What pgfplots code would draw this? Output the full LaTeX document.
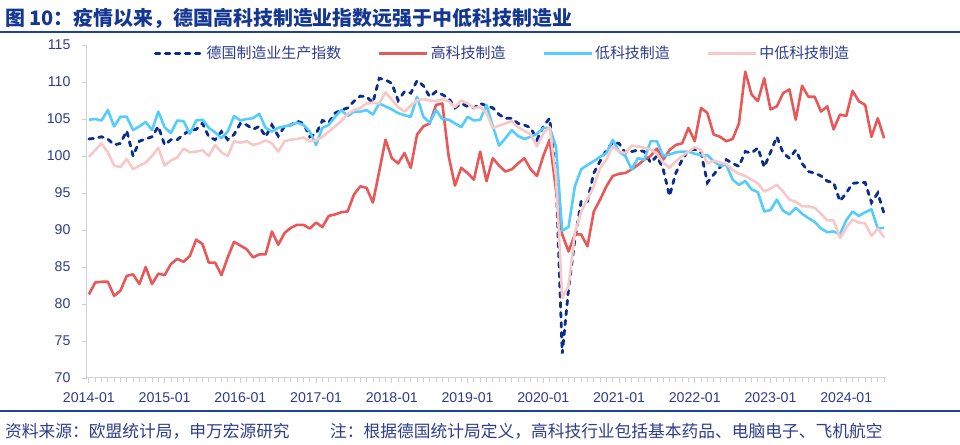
\documentclass[border=0pt]{standalone}
\usepackage{pgfplots}
\usepackage{pgfplotstable}
\pgfplotsset{compat=1.18}
\usepackage{fontspec}
\setmainfont{Liberation Sans}
\newfontfamily\cjk{Noto Sans CJK SC}

\definecolor{deblue}{RGB}{10,45,140}
\definecolor{hired}{RGB}{232,88,88}
\definecolor{loblue}{RGB}{85,205,252}
\definecolor{mlpink}{RGB}{247,200,200}
\definecolor{axisgray}{RGB}{208,208,208}
\definecolor{tickblue}{RGB}{45,60,140}
\definecolor{titleblue}{RGB}{20,55,145}
\definecolor{ruleblue}{RGB}{30,65,160}

% month index (0 = 2014-01), DE manufacturing, high-tech, low-tech, medium-low-tech
\pgfplotstableread{
m de hi lo ml
0 102.3 81.3 104.9 99.9
1 102.4 82.9 105.0 100.8
2 102.6 83.0 104.8 101.7
3 102.3 83.0 106.2 100.5
4 101.5 81.1 104.0 98.7
5 101.7 81.8 105.3 98.5
6 103.4 83.8 105.3 99.6
7 100.0 84.0 103.5 98.2
8 102.0 82.7 104.0 98.7
9 102.3 85.0 104.6 99.1
10 102.6 82.7 103.5 100.0
11 104.0 84.1 106.0 101.1
12 101.5 83.9 103.9 98.7
13 102.2 85.4 103.1 99.4
14 102.2 86.1 104.8 99.8
15 102.9 85.7 104.7 101.0
16 103.5 86.5 103.0 100.5
17 103.6 88.7 104.8 100.6
18 104.4 88.1 104.9 100.8
19 102.6 85.6 103.8 100.0
20 102.2 85.6 103.2 101.5
21 103.3 83.9 102.4 100.5
22 102.2 86.3 103.3 100.0
23 102.9 88.4 105.4 102.0
24 104.4 87.9 104.8 101.8
25 104.2 87.4 105.0 102.0
26 103.6 86.3 105.1 101.5
27 104.0 86.7 105.7 101.7
28 102.6 86.7 103.8 102.1
29 104.2 89.8 103.3 101.7
30 102.7 88.0 103.8 100.6
31 104.0 89.6 104.0 102.0
32 104.2 90.3 104.2 102.2
33 104.7 90.7 104.5 102.3
34 104.4 90.7 104.2 102.5
35 102.6 90.2 103.3 102.0
36 103.0 91.0 101.5 102.1
37 104.8 90.4 103.8 102.6
38 104.5 91.9 104.2 103.3
39 105.8 92.1 105.3 104.0
40 106.2 92.4 106.2 104.7
41 106.5 92.5 105.4 105.7
42 107.4 94.8 106.0 106.2
43 108.1 95.9 106.0 106.5
44 108.0 95.7 106.2 107.1
45 107.2 93.7 105.6 107.2
46 110.5 97.9 107.1 107.1
47 110.3 102.2 106.7 108.6
48 109.8 99.7 106.3 107.6
49 107.5 99.0 105.8 106.6
50 108.7 100.4 105.5 106.0
51 108.5 98.4 105.3 106.8
52 110.2 102.9 108.0 107.5
53 109.5 104.0 105.3 107.7
54 108.0 104.4 104.5 107.5
55 108.7 106.9 106.2 107.4
56 108.3 107.1 105.0 107.7
57 107.8 100.0 104.9 107.4
58 106.5 96.0 104.4 106.6
59 107.1 98.4 103.9 107.5
60 106.7 97.7 105.3 107.1
61 106.5 96.8 104.8 106.5
62 107.1 100.6 104.9 106.6
63 106.8 96.6 106.9 105.8
64 106.5 99.7 104.0 103.8
65 105.6 98.7 101.4 104.1
66 105.1 97.9 102.4 104.4
67 105.1 98.2 103.5 104.7
68 104.4 99.0 102.7 103.9
69 104.2 99.7 102.3 103.4
70 103.8 98.2 102.6 102.9
71 102.2 97.3 103.0 101.3
72 104.0 100.0 103.8 103.1
73 105.1 102.2 103.8 103.9
74 97.5 95.5 101.3 97.3
75 73.3 89.4 89.9 80.8
76 82.0 87.1 90.4 82.4
77 88.7 89.4 95.9 89.6
78 93.9 89.4 98.2 92.5
79 93.9 87.8 98.8 94.2
80 97.7 92.5 99.3 95.9
81 99.3 94.1 99.9 98.4
82 100.8 95.9 100.4 99.5
83 101.8 97.3 102.2 101.3
84 101.7 97.6 100.6 100.6
85 100.4 97.7 100.0 100.4
86 100.6 98.2 98.2 101.4
87 100.8 98.8 99.7 101.3
88 100.6 99.5 99.5 101.1
89 99.1 100.0 102.0 100.9
90 100.0 101.0 102.0 100.3
91 98.2 99.5 100.0 99.1
92 94.6 100.8 100.2 98.4
93 97.7 101.5 100.5 99.3
94 99.5 101.7 100.6 100.0
95 100.8 103.8 100.6 100.6
96 100.9 102.0 100.3 101.2
97 100.4 106.5 100.1 100.8
98 96.4 105.8 100.1 99.0
99 97.5 102.9 99.3 99.4
100 98.5 102.6 98.7 99.1
101 99.5 102.0 98.8 98.9
102 99.0 102.3 96.8 98.1
103 98.6 104.4 96.1 97.6
104 100.6 111.4 96.6 97.3
105 100.4 108.3 95.5 96.8
106 101.1 107.4 95.1 96.3
107 98.5 110.5 92.5 95.2
108 100.5 106.3 92.7 95.6
109 102.6 106.7 94.1 96.1
110 100.4 108.5 92.6 95.2
111 99.7 109.0 92.1 94.1
112 100.8 104.9 93.0 93.8
113 99.0 109.5 92.2 93.2
114 97.9 108.0 91.6 93.2
115 97.7 108.0 91.1 93.0
116 97.3 106.0 90.2 92.2
117 96.6 106.7 89.7 91.3
118 96.4 103.6 89.8 91.3
119 93.9 105.6 89.4 88.9
120 95.0 105.4 91.3 90.3
121 96.3 108.8 92.5 91.4
122 96.4 107.4 91.9 91.0
123 96.4 106.9 92.4 90.9
124 93.7 102.6 92.8 89.2
125 95.0 105.1 90.2 90.2
126 92.2 102.4 90.3 89.0
}\data

\begin{document}
\begin{tikzpicture}
\useasboundingbox (0,0) rectangle (960bp,445bp);

% title and rules
\node[anchor=base west, inner sep=0, text=titleblue,
  font=\cjk\bfseries\fontsize{20}{22}\selectfont] at (5bp,419bp)
  {图 10：疫情以来，德国高科技制造业指数远强于中低科技制造业};
\draw[ruleblue, line width=2bp] (0,413bp) -- (960bp,413bp);
\draw[ruleblue, line width=2bp] (0,34bp) -- (960bp,34bp);
\node[anchor=base west, inner sep=0, text=tickblue,
  font=\cjk\fontsize{16.8}{19}\selectfont] at (5bp,8bp)
  {资料来源：欧盟统计局，申万宏源研究};
\node[anchor=base west, inner sep=0, text=tickblue,
  font=\cjk\fontsize{16.8}{19}\selectfont] at (330bp,8bp)
  {注：根据德国统计局定义，高科技行业包括基本药品、电脑电子、飞机航空};

\begin{axis}[
  at={(87bp,67bp)}, anchor=south west,
  scale only axis, width=799bp, height=333bp,
  xmin=-0.3, xmax=126.3, ymin=70, ymax=115,
  axis x line*=bottom, axis y line*=left,
  axis line style={draw=axisgray, line width=1bp, -},
  ytick={70,75,...,115},
  xtick={0,12,...,120},
  xticklabels={2014-01,2015-01,2016-01,2017-01,2018-01,2019-01,2020-01,2021-01,2022-01,2023-01,2024-01},
  minor xtick={1,...,126},
  tick align=outside,
  major tick length=5bp, minor tick length=4bp,
  every tick/.style={axisgray, line width=0.8bp},
  ticklabel style={font=\fontsize{14.2}{16}\selectfont, text=tickblue},
  yticklabel style={xshift=-8bp},
  xticklabel style={yshift=-6bp},
  /pgf/number format/assume math mode=true,
  legend style={at={(0.52,0.975)}, anchor=center, draw=none, fill=none,
    legend columns=4, font=\cjk\fontsize{15}{17}\selectfont, text=tickblue,
    /tikz/every even column/.append style={column sep=35bp}},
  legend image code/.code={\draw[#1] (0bp,0bp) -- (48bp,0bp);},
]
\addplot[deblue, line width=2.8bp, line cap=round, dash pattern=on 4.5bp off 5.5bp] table[x=m, y=de] {\data};
\addlegendentry{德国制造业生产指数}
\addplot[hired, line width=2.6bp, line join=round] table[x=m, y=hi] {\data};
\addlegendentry{高科技制造}
\addplot[loblue, line width=2.6bp, line join=round] table[x=m, y=lo] {\data};
\addlegendentry{低科技制造}
\addplot[mlpink, line width=2.6bp, line join=round] table[x=m, y=ml] {\data};
\addlegendentry{中低科技制造}
\end{axis}
\end{tikzpicture}
\end{document}
